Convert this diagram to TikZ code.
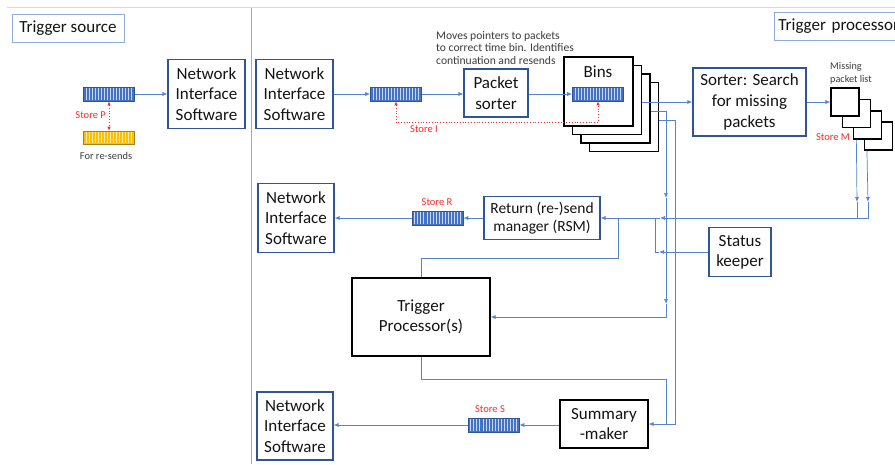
\documentclass[tikz,border=0pt]{standalone}
\usepackage{fontspec}
\setmainfont{Carlito}
\usetikzlibrary{arrows.meta,calc}
\definecolor{conncol}{RGB}{86,130,210}
\definecolor{dblue}{RGB}{47,85,151}
\definecolor{lblue}{RGB}{143,170,220}
\definecolor{bfill}{RGB}{68,114,196}
\definecolor{bstripe}{RGB}{200,215,245}
\definecolor{yfill}{RGB}{255,192,0}
\definecolor{ydraw}{RGB}{160,130,40}
\definecolor{ystripe}{RGB}{255,236,170}
\definecolor{txt}{RGB}{20,20,20}
\definecolor{notecol}{RGB}{60,60,60}
\definecolor{sred}{RGB}{255,40,40}
\newcommand{\bufstripes}[2]{%
  \foreach \i in {1,...,16}{%
    \draw[#2,line width=0.7pt] ($(#1.south west)!\i/17!(#1.south east)+(0,-1)$) -- ($(#1.north west)!\i/17!(#1.north east)+(0,1)$);}}
\begin{document}
\begin{tikzpicture}[x=1pt,y=-1pt,
  bluebox/.style={draw=dblue,line width=1.1pt,fill=white,inner sep=0pt,align=center,font=\fontsize{17}{20.5}\selectfont,text=txt},
  blackbox/.style={draw=black,line width=1.2pt,fill=white,inner sep=0pt,align=center,font=\fontsize{17}{20.5}\selectfont,text=txt},
  titlebox/.style={draw=lblue,line width=0.9pt,inner sep=0pt,font=\fontsize{17}{19}\selectfont,text=txt},
  conn/.style={draw=conncol,line width=0.7pt},
  tip/.style={-{Latex[length=5pt,width=4pt]}},
  buf/.style={draw=dblue,fill=bfill,line width=0.6pt,inner sep=0pt,minimum width=51pt,minimum height=14pt},
  ybuf/.style={draw=ydraw,fill=yfill,line width=0.6pt,inner sep=0pt,minimum width=51pt,minimum height=13pt},
  storelbl/.style={text=sred,font=\fontsize{10.5}{12}\selectfont,inner sep=0pt},
  smalltext/.style={text=notecol,inner sep=0pt,align=left},
  reddot/.style={draw=sred,dotted,line width=0.8pt,{Latex[length=4pt,width=3.5pt]}-{Latex[length=4pt,width=3.5pt]}}
]
\useasboundingbox (0,0) rectangle (895,464);
\clip (0,0) rectangle (895,464);
\fill[white] (0,0) rectangle (895,464);

% frame lines
\draw[black!15,line width=0.8pt] (7,7) -- (895,7);
\draw[lblue,line width=0.8pt] (251,8) -- (251,464);

% titles
\node[titlebox,minimum width=112pt,minimum height=28pt] (tsrc) at (68,28) {Trigger source};
\node[titlebox,minimum width=140pt,minimum height=28pt,anchor=west,text width=132pt,align=left] (tproc) at (774,26) {Trigger processor};

% left section
\node[buf] (bufP) at (109,94) {};
\bufstripes{bufP}{bstripe}
\node[ybuf] (bufY) at (109,137.5) {};
\bufstripes{bufY}{ystripe}
\node[bluebox,minimum width=77pt,minimum height=69pt] (nis1) at (206.5,94) {Network\\Interface\\Software};
\draw[conn,tip] (bufP.east) -- (nis1.west);
\draw[reddot] (bufP.south) -- (bufY.north);
\node[storelbl,anchor=east] (stP) at (106,115) {Store P};
\node[smalltext,font=\fontsize{10.4}{12}\selectfont] (resend) at (106,156) {For re-sends};

% top row
\node[bluebox,minimum width=77pt,minimum height=69pt] (nis2) at (294.5,94) {Network\\Interface\\Software};
\node[buf] (bufI) at (396,94) {};
\bufstripes{bufI}{bstripe}
\node[bluebox,minimum width=64pt,minimum height=48pt] (psort) at (496,93) {Packet\\sorter};
\node[smalltext,anchor=west,font=\fontsize{11.6}{12.8}\selectfont] (note) at (436,48) {Moves pointers to packets\\to correct time bin. Identifies\\continuation and resends};

% bins
\node[blackbox,minimum size=69pt] (bin4) at (624,117) {};
\node[blackbox,minimum size=69pt] (bin3) at (615.5,108.5) {};
\node[blackbox,minimum size=69pt] (bin2) at (607,100) {};
\node[blackbox,minimum size=69pt] (bin1) at (598.5,91.5) {};
\node[inner sep=0pt,font=\fontsize{17}{20.5}\selectfont,text=txt] (binslbl) at (598,72) {Bins};
\node[buf] (bufB) at (598,94) {};
\bufstripes{bufB}{bstripe}

\draw[conn,tip] (nis2.east |- bufI.west) -- (bufI.west);
\draw[conn,tip] (bufI.east) -- (psort.west |- bufI.east);
\draw[conn,tip] (psort.east |- bufB.west) -- (bufB.west);
\draw[reddot] (bufI.south) -- ++(0,21) -| (bufB.south);
\node[storelbl] (stI) at (424,129) {Store I};

% sorter and missing list
\node[bluebox,minimum width=113pt,minimum height=68pt,font=\fontsize{17}{21}\selectfont] (sorter) at (749.5,102) {Sorter: Search\\for missing\\packets};
\node[blackbox,minimum size=28pt,line width=1.1pt] (mis4) at (878.5,136) {};
\node[blackbox,minimum size=28pt,line width=1.1pt] (mis3) at (867.5,125) {};
\node[blackbox,minimum size=28pt,line width=1.1pt] (mis2) at (856.3,113.5) {};
\node[blackbox,minimum size=28pt,line width=1.1pt] (mis1) at (845,102) {};
\node[smalltext,anchor=west,font=\fontsize{10.2}{13}\selectfont] (mislbl) at (830,73.5) {Missing\\packet list};
\node[storelbl] (stM) at (833,137) {Store M};

\draw[conn,tip] (bin2.east |- sorter.west) -- (sorter.west);
\draw[conn,tip] (sorter.east) -- (mis1.west);

% middle row
\node[bluebox,minimum width=76pt,minimum height=69pt] (nis3) at (296,218) {Network\\Interface\\Software};
\node[buf] (bufR) at (437.5,218) {};
\bufstripes{bufR}{bstripe}
\node[storelbl] (stR) at (437,202) {Store R};
\node[bluebox,minimum width=116pt,minimum height=43pt,font=\fontsize{15.5}{18}\selectfont] (rsm) at (542,218) {Return (re-)send\\manager (RSM)};
\node[bluebox,minimum width=62pt,minimum height=49pt,font=\fontsize{17}{20}\selectfont] (sk) at (740,252) {Status\\keeper};
\node[blackbox,minimum width=138pt,minimum height=78pt] (tp) at (421,317) {Trigger\\Processor(s)};

% bottom row
\node[bluebox,minimum width=76pt,minimum height=68pt] (nis4) at (295,426) {Network\\Interface\\Software};
\node[buf] (bufS) at (493.5,425) {};
\bufstripes{bufS}{bstripe}
\node[storelbl] (stS) at (490,409) {Store S};
\node[blackbox,minimum width=88pt,minimum height=48pt,font=\fontsize{17}{20}\selectfont] (sm) at (604,424) {Summary\\-maker};

\coordinate (vA) at (666,0);
\coordinate (vB) at (675,0);

% connectors
\draw[conn,tip] (rsm.west) -- (bufR.east);
\draw[conn,tip] (bufR.west) -- (nis3.east);
\draw[conn,tip] (sm.west |- bufS.east) -- (bufS.east);
\draw[conn,tip] (bufS.west) -- (nis4.east |- bufS.west);

% from bins down to TP
\draw[conn,tip] ($(bin3.east)+(0,2.5)$) -| (666,198);
\draw[conn,tip] (666,198) -- (666,304);
\draw[conn,tip] (666,304) |- (tp.east);
% from bins down to summary maker
\draw[conn,tip] ($(bin4.east)+(0,3)$) -| (sm.east -| vB) -- (sm.east);
% TP bottom to summary maker
\draw[conn] (tp.south) -- ++(0,23) -| (sm.east -| vA);
% TP top to RSM input
\draw[conn] (tp.north) -- ++(0,-19) -| (618,218);

% missing list to RSM
\draw[conn,tip] ($(mis3.south west)+(3.4,0)$) -- (857,202);
\draw[conn] (857,202) -- (857,218);
\draw[conn,tip] ($(mis4.south west)+(3,0)$) -- (868,202);
\draw[conn,tip] (868,202) -- (868,218) -- (660,218);
\draw[conn,tip] (660,218) -- (rsm.east);
% status keeper
\draw[conn,tip] (sk.west) -- (659,252);
\draw[conn] (659,252) -- (655,252) -- (655,218);
\end{tikzpicture}
\end{document}
